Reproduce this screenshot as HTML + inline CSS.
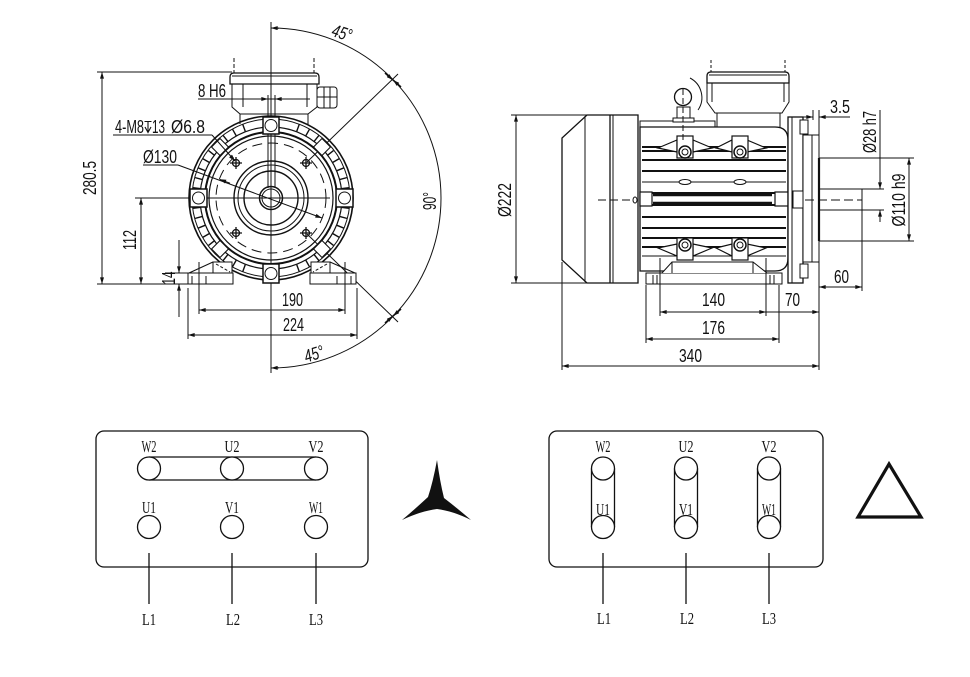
<!DOCTYPE html>
<html><head><meta charset="utf-8"><style>
html,body{margin:0;padding:0;background:#fff;}
svg{display:block;}
.d{font-family:"Liberation Sans",sans-serif;font-size:18px;fill:#111;}
.t{font-family:"Liberation Serif","Noto Serif CJK SC",serif;font-size:17px;fill:#111;}
</style></head><body>
<svg width="970" height="677" viewBox="0 0 970 677" xmlns="http://www.w3.org/2000/svg">
<defs>
<marker id="a" viewBox="0 0 10 6" refX="10" refY="3" markerWidth="8" markerHeight="4" orient="auto-start-reverse" markerUnits="userSpaceOnUse"><path d="M0,0L10,3L0,6z" fill="#111"/></marker>
</defs>
<rect width="970" height="677" fill="#fff"/>
<g stroke="#111" stroke-width="1" fill="none">
<!-- ============ FRONT VIEW ============ -->
<line x1="271" y1="22" x2="271" y2="373"/>
<line x1="135" y1="198" x2="330" y2="198"/>
<path d="M271,28 A170,170 0 0 1 271,368"/>
<line x1="279" y1="28.2" x2="271" y2="28" marker-end="url(#a)"/>
<line x1="279" y1="367.8" x2="271" y2="368" marker-end="url(#a)"/>
<line x1="307" y1="162" x2="398" y2="74"/>
<line x1="307" y1="234" x2="398" y2="322"/>
<line x1="385" y1="73" x2="393" y2="80" marker-end="url(#a)" stroke-width="1.5"/>
<line x1="401" y1="87" x2="393" y2="80" marker-end="url(#a)" stroke-width="1.5"/>
<line x1="401" y1="309" x2="393" y2="316" marker-end="url(#a)" stroke-width="1.5"/>
<line x1="385" y1="323" x2="393" y2="316" marker-end="url(#a)" stroke-width="1.5"/>

<!-- terminal box front -->
<line x1="234" y1="58" x2="234" y2="73" stroke-dasharray="4,2"/>
<line x1="314" y1="58" x2="314" y2="73" stroke-dasharray="4,2"/>
<path d="M230,84 L230,77 Q230,73 234,73 L315,73 Q319,73 319,77 L319,84 Z" stroke-width="1.3"/>
<line x1="232" y1="76" x2="317" y2="76"/>
<path d="M232,84 L232,107 L240,114 L308,114 L317,107 L317,84"/>
<line x1="243" y1="84" x2="243" y2="107"/>
<line x1="307" y1="84" x2="307" y2="107"/>
<line x1="240" y1="114" x2="240" y2="124"/>
<line x1="308" y1="114" x2="308" y2="124"/>
<rect x="317" y="87" width="20" height="21" rx="3"/>
<line x1="324" y1="87" x2="324" y2="108"/>
<line x1="330" y1="87" x2="330" y2="108"/>
<line x1="317" y1="97" x2="337" y2="97"/>
<line x1="268" y1="95" x2="268" y2="188"/>
<line x1="275" y1="95" x2="275" y2="188"/>

<!-- outer ring -->
<circle cx="271" cy="198" r="82" stroke-width="1.6"/>
<circle cx="271" cy="198" r="79"/>
<circle cx="271" cy="198" r="71" stroke-width="1.2"/>
<circle cx="271" cy="198" r="66" stroke-width="2"/>
<circle cx="271" cy="198" r="62" stroke-width="1.2"/>
<g stroke-width="1.4">
<path d="M342,198 L350,198 M341.1,207.3 L349,208.3 M339.6,216.4 L347.3,218.5 M336.6,225.2 L344,228.2 M332.6,233.5 L339.5,237.5 M327.2,240.4 L333.5,245.4 M314,254.4 L318.9,260.6 M305.6,259.9 L309.5,266.8 M296.7,264.6 L299.4,272 M245.3,264.6 L242.6,272 M236.4,259.9 L232.5,266.8 M228,254.4 L223.1,260.6 M214.8,240.4 L208.5,245.4 M209.4,233.5 L202.5,237.5 M205.4,225.2 L198,228.2 M202.4,216.4 L194.7,218.5 M200.9,207.3 L193,208.3 M200.9,188.7 L193,187.7 M202.4,179.6 L194.7,177.5 M205.4,170.8 L198,167.8 M209.4,162.5 L202.5,158.5 M214.8,155.6 L208.5,150.6 M228,141.6 L223.1,135.4 M236.4,136.1 L232.5,129.2 M245.3,131.4 L242.6,124 M296.7,131.4 L299.4,124 M305.6,136.1 L309.5,129.2 M314,141.6 L318.9,135.4 M327.2,155.6 L333.5,150.6 M332.6,162.5 L339.5,158.5 M336.6,170.8 L344,167.8 M339.6,179.6 L347.3,177.5 M341.1,188.7 L349,187.7"/>
</g>
<g stroke-width="1.1" fill="#fff">
<rect x="214" y="141" width="12" height="12" transform="rotate(45 220 147)"/>
<rect x="316" y="141" width="12" height="12" transform="rotate(45 322 147)"/>
<rect x="214" y="243" width="12" height="12" transform="rotate(45 220 249)"/>
<rect x="316" y="243" width="12" height="12" transform="rotate(45 322 249)"/>
</g>
<g stroke-width="1.5" fill="#fff">
<rect x="190" y="189" width="17" height="18"/>
<rect x="336" y="189" width="17" height="18"/>
<rect x="263" y="117" width="16" height="17"/>
<rect x="263" y="264" width="16" height="19"/>
</g>
<circle cx="198.5" cy="198" r="6"/>
<circle cx="344.5" cy="198" r="6"/>
<circle cx="271" cy="125.5" r="6"/>
<circle cx="271" cy="273.5" r="6"/>
<circle cx="271" cy="198" r="55" stroke-dasharray="10,6"/>
<circle cx="271" cy="198" r="37" stroke-width="1.4"/>
<circle cx="271" cy="198" r="33"/>
<circle cx="271" cy="198" r="27" stroke-width="1.4"/>
<circle cx="271" cy="198" r="11.5" stroke-width="1.5"/>
<circle cx="271" cy="198" r="9"/>
<g stroke-width="1.3">
<circle cx="236" cy="163" r="3.5"/><path d="M230,163h12M236,157v12"/>
<circle cx="306" cy="163" r="3.5"/><path d="M300,163h12M306,157v12"/>
<circle cx="236" cy="233" r="3.5"/><path d="M230,233h12M236,227v12"/>
<circle cx="306" cy="233" r="3.5"/><path d="M300,233h12M306,227v12"/>
</g>
<!-- feet -->
<rect x="188" y="273" width="45" height="11" fill="#fff"/>
<rect x="213" y="262" width="19" height="11" fill="#fff"/>
<line x1="189" y1="273" x2="213" y2="262"/>
<line x1="216" y1="264" x2="230" y2="272" stroke-dasharray="3,2"/>
<rect x="310" y="273" width="46" height="11" fill="#fff"/>
<rect x="311" y="262" width="19" height="11" fill="#fff"/>
<line x1="355" y1="273" x2="330" y2="262"/>
<line x1="327" y1="264" x2="313" y2="272" stroke-dasharray="3,2"/>
<line x1="206" y1="276" x2="206" y2="284"/><line x1="192" y1="276" x2="192" y2="284"/>
<line x1="337" y1="276" x2="337" y2="284"/><line x1="351" y1="276" x2="351" y2="284"/>

<!-- dims front -->
<line x1="97" y1="72" x2="232" y2="72"/>
<line x1="97" y1="284" x2="188" y2="284"/>
<line x1="102" y1="72" x2="102" y2="284" marker-start="url(#a)" marker-end="url(#a)"/>
<line x1="141" y1="198" x2="141" y2="284" marker-start="url(#a)" marker-end="url(#a)"/>
<line x1="165" y1="273" x2="188" y2="273"/>
<line x1="179" y1="240" x2="179" y2="273" marker-end="url(#a)"/>
<line x1="179" y1="317" x2="179" y2="284" marker-end="url(#a)"/>
<line x1="199" y1="262" x2="199" y2="314"/>
<line x1="345" y1="262" x2="345" y2="314"/>
<line x1="199" y1="310" x2="345" y2="310" marker-start="url(#a)" marker-end="url(#a)"/>
<line x1="188" y1="288" x2="188" y2="339"/>
<line x1="357" y1="288" x2="357" y2="339"/>
<line x1="188" y1="335" x2="357" y2="335" marker-start="url(#a)" marker-end="url(#a)"/>
<line x1="198" y1="99" x2="310" y2="99"/>
<line x1="258" y1="99" x2="268" y2="99" marker-end="url(#a)"/>
<line x1="285" y1="99" x2="275" y2="99" marker-end="url(#a)"/>
<line x1="113" y1="135" x2="212" y2="135"/>
<line x1="212" y1="135" x2="235" y2="161" marker-end="url(#a)"/>
<path d="M144.5,121.5 h7 M148,121.5 v11 M145,127 l3,5.5 l3,-5.5" stroke-width="1.1"/>
<line x1="143" y1="165" x2="178" y2="165"/>
<line x1="178" y1="165" x2="322" y2="218" marker-end="url(#a)"/>
<line x1="230" y1="183.2" x2="219.5" y2="179.3" marker-end="url(#a)"/>

<!-- ============ SIDE VIEW ============ -->
<path d="M587,115 L638,115 L638,283 L587,283 L562,260 L562,138 Z" stroke-width="1.3"/>
<line x1="585" y1="116" x2="585" y2="282"/>
<line x1="610" y1="115" x2="610" y2="283" stroke-width="1.3"/>
<line x1="613" y1="115" x2="613" y2="283"/>
<line x1="598" y1="200" x2="632" y2="200" stroke-dasharray="8,4"/>
<ellipse cx="635" cy="200" rx="2" ry="3"/>
<path d="M640,127 L775,127 Q788,127 788,140 L788,258 Q788,271 775,271 L640,271 Z" stroke-width="1.3"/>
<path d="M640,127 L640,121 L715,121 L715,127"/>
<g stroke-width="2">
<path d="M642,147H786M642,151H786M642,160H786M642,171H786M642,193H786M642,205H786M642,217H786M642,228H786M642,238H786M642,247H786"/>
</g>
<line x1="642" y1="182" x2="786" y2="182" stroke-width="1"/>
<line x1="642" y1="256" x2="786" y2="256" stroke-width="1"/>
<line x1="653" y1="195" x2="772" y2="195" stroke-width="2.5"/>
<line x1="653" y1="203" x2="772" y2="203" stroke-width="2.5"/>
<ellipse cx="685" cy="182" rx="6" ry="2.5" fill="#fff"/>
<ellipse cx="740" cy="182" rx="6" ry="2.5" fill="#fff"/>
<g fill="#fff" stroke-width="1.2">
<path d="M658,148 L677,140 L677,152 Z"/>
<path d="M716,148 L732,140 L732,152 Z"/>
<path d="M712,148 L693,140 L693,152 Z"/>
<path d="M766,148 L747,140 L747,152 Z"/>
<rect x="677" y="136" width="16" height="22"/>
<rect x="732" y="136" width="16" height="22"/>
<path d="M658,248 L677,256 L677,244 Z"/>
<path d="M716,248 L732,256 L732,244 Z"/>
<path d="M712,248 L693,256 L693,244 Z"/>
<path d="M766,248 L747,256 L747,244 Z"/>
<rect x="677" y="238" width="16" height="22"/>
<rect x="732" y="238" width="16" height="22"/>
<rect x="640" y="192" width="12" height="14"/>
<rect x="775" y="192" width="13" height="14"/>
</g>
<circle cx="685" cy="152" r="6" stroke-width="1.5"/><circle cx="685" cy="152" r="3"/>
<circle cx="740" cy="152" r="6" stroke-width="1.5"/><circle cx="740" cy="152" r="3"/>
<circle cx="685" cy="245" r="6" stroke-width="1.5"/><circle cx="685" cy="245" r="3"/>
<circle cx="740" cy="245" r="6" stroke-width="1.5"/><circle cx="740" cy="245" r="3"/>
<circle cx="683" cy="97" r="8.5" stroke-width="1.3"/>
<path d="M690,78 A22,22 0 0 1 698,110"/>
<rect x="677" y="107" width="13" height="11" fill="#fff"/>
<rect x="673" y="118" width="21" height="4" fill="#fff"/>
<line x1="683" y1="89" x2="683" y2="140" stroke-dasharray="6,3"/>
<line x1="711" y1="60" x2="711" y2="72" stroke-dasharray="3,2"/>
<line x1="785" y1="60" x2="785" y2="72" stroke-dasharray="3,2"/>
<path d="M707,83 L707,76 Q707,72 711,72 L785,72 Q789,72 789,76 L789,83 Z" stroke-width="1.3"/>
<line x1="709" y1="75" x2="787" y2="75"/>
<path d="M707,83 L707,102 L715,113 L782,113 L789,102 L789,83"/>
<line x1="712" y1="83" x2="712" y2="102"/><line x1="784" y1="83" x2="784" y2="102"/>
<path d="M717,113 L717,127 M780,113 L780,127"/>
<line x1="715" y1="113" x2="782" y2="113"/>
<rect x="788" y="117" width="15" height="166" stroke-width="1.3" fill="#fff"/>
<line x1="792" y1="117" x2="792" y2="283"/>
<rect x="800" y="120" width="8" height="14" fill="#fff"/>
<rect x="800" y="264" width="8" height="14" fill="#fff"/>
<rect x="793" y="191" width="14" height="17" fill="#fff"/>
<circle cx="806" cy="199" r="2.5"/>
<rect x="803" y="135" width="16" height="127" fill="#fff"/>
<line x1="812" y1="135" x2="812" y2="262"/>
<line x1="819" y1="158" x2="819" y2="241" stroke-width="2.2"/>
<rect x="819" y="189" width="43" height="21"/>
<line x1="805" y1="200" x2="862" y2="200" stroke-dasharray="9,4"/>
<rect x="646" y="273" width="136" height="11" fill="#fff"/>
<path d="M662,273 L672,262 L753,262 L767,273" fill="#fff"/>
<line x1="672" y1="262" x2="672" y2="273"/><line x1="753" y1="262" x2="753" y2="273"/>
<path d="M653,275v9M657,275v9M770,275v9M774,275v9"/>

<!-- dims side -->
<line x1="511" y1="115" x2="588" y2="115"/>
<line x1="511" y1="283" x2="588" y2="283"/>
<line x1="516" y1="115" x2="516" y2="283" marker-start="url(#a)" marker-end="url(#a)"/>
<line x1="660" y1="258" x2="660" y2="316"/>
<line x1="766" y1="258" x2="766" y2="316"/>
<line x1="660" y1="312" x2="766" y2="312" marker-start="url(#a)" marker-end="url(#a)"/>
<line x1="766" y1="312" x2="819" y2="312" marker-end="url(#a)"/>
<line x1="646" y1="285" x2="646" y2="343"/>
<line x1="779" y1="285" x2="779" y2="343"/>
<line x1="646" y1="339" x2="779" y2="339" marker-start="url(#a)" marker-end="url(#a)"/>
<line x1="562" y1="262" x2="562" y2="370"/>
<line x1="819" y1="110" x2="819" y2="370"/>
<line x1="562" y1="366" x2="819" y2="366" marker-start="url(#a)" marker-end="url(#a)"/>
<line x1="862" y1="210" x2="862" y2="291"/>
<line x1="819" y1="287" x2="862" y2="287" marker-start="url(#a)" marker-end="url(#a)"/>
<line x1="813" y1="110" x2="813" y2="120"/>
<line x1="803" y1="117" x2="813" y2="117" marker-end="url(#a)"/>
<line x1="850" y1="117" x2="819" y2="117" marker-end="url(#a)"/>
<line x1="862" y1="189" x2="884" y2="189"/>
<line x1="862" y1="210" x2="884" y2="210"/>
<line x1="880" y1="110" x2="880" y2="189" marker-end="url(#a)"/>
<line x1="880" y1="222" x2="880" y2="210" marker-end="url(#a)"/>
<line x1="819" y1="158" x2="914" y2="158"/>
<line x1="819" y1="241" x2="914" y2="241"/>
<line x1="909" y1="158" x2="909" y2="241" marker-start="url(#a)" marker-end="url(#a)"/>

<!-- ============ TERMINAL DIAGRAMS ============ -->
<rect x="96" y="431" width="272" height="136" rx="8" stroke-width="1.3"/>
<line x1="149" y1="457" x2="316" y2="457" stroke-width="1.3"/>
<line x1="149" y1="480" x2="316" y2="480" stroke-width="1.3"/>
<g fill="#fff" stroke-width="1.3">
<circle cx="149" cy="468.5" r="11.5"/><circle cx="232" cy="468.5" r="11.5"/><circle cx="316" cy="468.5" r="11.5"/>
<circle cx="149" cy="527" r="11.5"/><circle cx="232" cy="527" r="11.5"/><circle cx="316" cy="527" r="11.5"/>
</g>
<path d="M149,553V604M232,553V604M316,553V604" stroke-width="1.3"/>

<rect x="549" y="431" width="274" height="136" rx="8" stroke-width="1.3"/>
<path d="M591.5,468.5V527M614.5,468.5V527M674.5,468.5V527M697.5,468.5V527M757.5,468.5V527M780.5,468.5V527" stroke-width="1.3"/>
<g fill="#fff" stroke-width="1.3">
<circle cx="603" cy="468.5" r="11.5"/><circle cx="686" cy="468.5" r="11.5"/><circle cx="769" cy="468.5" r="11.5"/>
<circle cx="603" cy="527" r="11.5"/><circle cx="686" cy="527" r="11.5"/><circle cx="769" cy="527" r="11.5"/>
</g>
<path d="M603,553V604M686,553V604M769,553V604" stroke-width="1.3"/>
<path d="M889,464 L858,517 L921,517 Z" stroke-width="3.2" stroke-linejoin="miter"/>
</g>
<!-- star -->
<path d="M437,460 Q433,482 428,497 Q414,510 402,520 Q421,511 437,509 Q453,511 471,520 Q457,508 444,498 Q440,482 437,460 Z" fill="#111"/>

<!-- ========== TEXT ========== -->
<g class="d">
<text transform="translate(96,178) rotate(-90)" text-anchor="middle" textLength="34" lengthAdjust="spacingAndGlyphs">280.5</text>
<text transform="translate(136,240) rotate(-90)" text-anchor="middle" textLength="20" lengthAdjust="spacingAndGlyphs">112</text>
<text transform="translate(175,278) rotate(-90)" text-anchor="middle" textLength="13" lengthAdjust="spacingAndGlyphs">14</text>
<text x="282" y="306" textLength="21" lengthAdjust="spacingAndGlyphs">190</text>
<text x="283" y="331" textLength="21" lengthAdjust="spacingAndGlyphs">224</text>
<text x="198" y="97" textLength="28" lengthAdjust="spacingAndGlyphs">8 H6</text>
<text x="115" y="133" textLength="29" lengthAdjust="spacingAndGlyphs">4-M8</text>
<text x="152" y="133" textLength="13" lengthAdjust="spacingAndGlyphs">13</text>
<text x="171" y="133" textLength="34" lengthAdjust="spacingAndGlyphs">Ø6.8</text>
<text x="143" y="163" textLength="34" lengthAdjust="spacingAndGlyphs">Ø130</text>
<text transform="translate(342,33) rotate(18)" text-anchor="middle" dy="6" textLength="20" lengthAdjust="spacingAndGlyphs" font-style="italic">45°</text>
<text transform="translate(436,201) rotate(-90)" text-anchor="middle" textLength="18" lengthAdjust="spacingAndGlyphs">90°</text>
<text transform="translate(314,354) rotate(-18)" text-anchor="middle" dy="6" textLength="20" lengthAdjust="spacingAndGlyphs" font-style="italic">45°</text>

<text transform="translate(511,200) rotate(-90)" text-anchor="middle" textLength="34" lengthAdjust="spacingAndGlyphs">Ø222</text>
<text x="702" y="306" textLength="23" lengthAdjust="spacingAndGlyphs">140</text>
<text x="785" y="306" textLength="15" lengthAdjust="spacingAndGlyphs">70</text>
<text x="702" y="334" textLength="23" lengthAdjust="spacingAndGlyphs">176</text>
<text x="679" y="362" textLength="23" lengthAdjust="spacingAndGlyphs">340</text>
<text x="834" y="283" textLength="15" lengthAdjust="spacingAndGlyphs">60</text>
<text x="830" y="113" textLength="20" lengthAdjust="spacingAndGlyphs">3.5</text>
<text transform="translate(876,132) rotate(-90)" text-anchor="middle" textLength="42" lengthAdjust="spacingAndGlyphs">Ø28 h7</text>
<text transform="translate(905,200) rotate(-90)" text-anchor="middle" textLength="53" lengthAdjust="spacingAndGlyphs">Ø110 h9</text>
</g>
<g class="t" text-anchor="middle">
<text x="149" y="452" textLength="15" lengthAdjust="spacingAndGlyphs">W2</text>
<text x="232" y="452" textLength="15" lengthAdjust="spacingAndGlyphs">U2</text>
<text x="316" y="452" textLength="15" lengthAdjust="spacingAndGlyphs">V2</text>
<text x="149" y="513" textLength="14" lengthAdjust="spacingAndGlyphs">U1</text>
<text x="232" y="513" textLength="14" lengthAdjust="spacingAndGlyphs">V1</text>
<text x="316" y="513" textLength="14" lengthAdjust="spacingAndGlyphs">W1</text>
<text x="149" y="625" textLength="14" lengthAdjust="spacingAndGlyphs">L1</text>
<text x="233" y="625" textLength="14" lengthAdjust="spacingAndGlyphs">L2</text>
<text x="316" y="625" textLength="14" lengthAdjust="spacingAndGlyphs">L3</text>

<text x="603" y="452" textLength="15" lengthAdjust="spacingAndGlyphs">W2</text>
<text x="686" y="452" textLength="15" lengthAdjust="spacingAndGlyphs">U2</text>
<text x="769" y="452" textLength="15" lengthAdjust="spacingAndGlyphs">V2</text>
<text x="603" y="515" textLength="14" lengthAdjust="spacingAndGlyphs">U1</text>
<text x="686" y="515" textLength="14" lengthAdjust="spacingAndGlyphs">V1</text>
<text x="769" y="515" textLength="14" lengthAdjust="spacingAndGlyphs">W1</text>
<text x="604" y="624" textLength="14" lengthAdjust="spacingAndGlyphs">L1</text>
<text x="687" y="624" textLength="14" lengthAdjust="spacingAndGlyphs">L2</text>
<text x="769" y="624" textLength="14" lengthAdjust="spacingAndGlyphs">L3</text>
</g>
</svg>
</body></html>
